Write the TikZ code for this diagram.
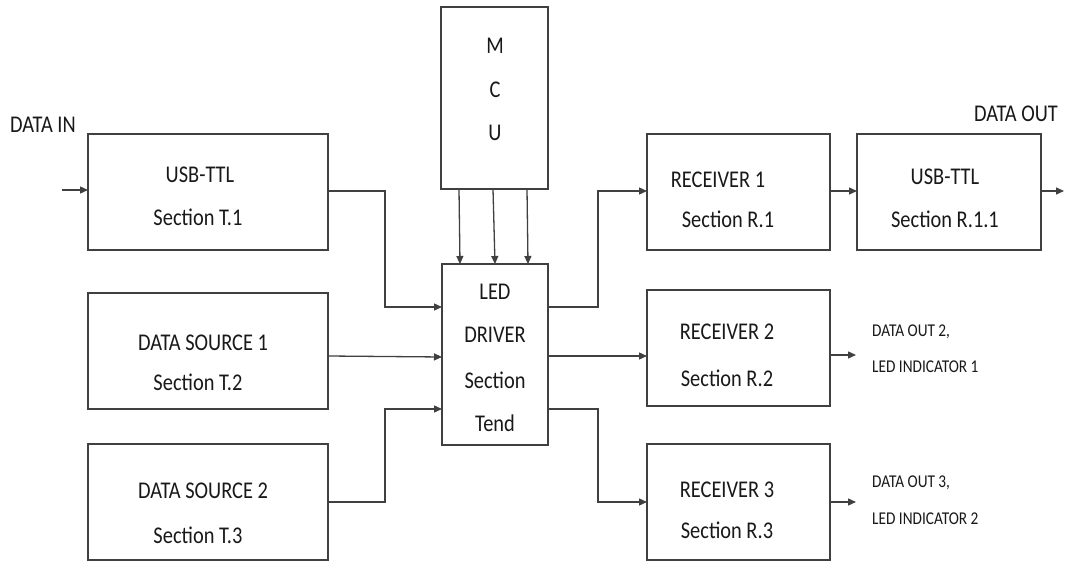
\documentclass[tikz,border=0pt]{standalone}
\usepackage{fontspec}
\usepackage{graphicx}
\setmainfont{Carlito}
\usetikzlibrary{arrows.meta}
\newcommand\vst[1]{\scalebox{1.02}[1.2]{#1}}
\begin{document}
\begin{tikzpicture}[x=1pt,y=-1pt,
  box/.style={draw=black!75,line width=1.3pt,rectangle,inner sep=0pt,outer sep=0pt},
  conn/.style={draw=black!75,line width=1.3pt},
  arr/.style={conn,-{Triangle[length=8pt,width=7pt]}},
  txt/.style={inner sep=0pt,text=black!90,font=\fontsize{20}{24}\selectfont},
  small/.style={inner sep=0pt,text=black!90,anchor=west,font=\fontsize{15}{18}\selectfont}]
\useasboundingbox[fill=white] (0,0) rectangle (1066,561);
% boxes
\node[box,minimum width=240pt,minimum height=116pt] (t1) at (208,192) {};
\node[box,minimum width=240pt,minimum height=116pt] (ds1) at (208,351) {};
\node[box,minimum width=240pt,minimum height=116pt] (ds2) at (208,502) {};
\node[box,minimum width=107pt,minimum height=182pt] (mcu) at (494.5,98) {};
\node[box,minimum width=106pt,minimum height=181pt] (led) at (495,354.5) {};
\node[box,minimum width=183pt,minimum height=116pt] (r1) at (738.5,192) {};
\node[box,minimum width=184pt,minimum height=116pt] (r11) at (949,192) {};
\node[box,minimum width=183pt,minimum height=116pt] (r2) at (738.5,348) {};
\node[box,minimum width=183pt,minimum height=116pt] (r3) at (738.5,502) {};
% texts
\node[txt] (din) at (43,125) {\vst{DATA IN}};
\node[txt] (dout) at (1016,114) {\vst{DATA OUT}};
\node[txt] (t1a) at (200,175) {\vst{USB-TTL}};
\node[txt] (t1b) at (198,217) {\vst{Section T.1}};
\node[txt] (ds1a) at (203,343) {\vst{DATA SOURCE 1}};
\node[txt] (ds1b) at (198,382) {\vst{Section T.2}};
\node[txt] (ds2a) at (203,491) {\vst{DATA SOURCE 2}};
\node[txt] (ds2b) at (198,535) {\vst{Section T.3}};
\node[txt] (m) at (495,46) {\vst{M}};
\node[txt] (c) at (495,90) {\vst{C}};
\node[txt] (u) at (495,133) {\vst{U}};
\node[txt] (led1) at (495,292) {\vst{LED}};
\node[txt] (led2) at (495,335) {\vst{DRIVER}};
\node[txt] (led3) at (495,380) {\vst{Section}};
\node[txt] (led4) at (495,423) {\vst{Tend}};
\node[txt] (r1a) at (718,180) {\vst{RECEIVER 1}};
\node[txt] (r1b) at (728,219) {\vst{Section R.1}};
\node[txt] (r11a) at (945,177) {\vst{USB-TTL}};
\node[txt] (r11b) at (945,219) {\vst{Section R.1.1}};
\node[txt] (r2a) at (727,332) {\vst{RECEIVER 2}};
\node[txt] (r2b) at (727,378) {\vst{Section R.2}};
\node[txt] (r3a) at (727,490) {\vst{RECEIVER 3}};
\node[txt] (r3b) at (727,530) {\vst{Section R.3}};
\node[small] (o2a) at (872,332) {\vst{DATA OUT 2,}};
\node[small] (o2b) at (872,367) {\vst{LED INDICATOR 1}};
\node[small] (o3a) at (872,483) {\vst{DATA OUT 3,}};
\node[small] (o3b) at (872,519) {\vst{LED INDICATOR 2}};
% free ends
\coordinate (in) at (62,190);
\coordinate (out1) at (1064,191);
\coordinate (out2) at (856,355);
\coordinate (out3) at (856,502);
% connectors
\draw[arr] (in) -- (in -| t1.west);
\draw[arr] (t1.east |- 0,191) -| (385,307) -- (led.west |- 0,307);
\draw[arr] (ds1.east |- 0,356) -- (led.west |- 0,357);
\draw[arr] (ds2.east |- 0,502) -| (385,409) -- (led.west |- 0,409);
\draw[arr] (mcu.south -| 459,0) -- (led.north -| 460,0);
\draw[arr] (mcu.south -| 493,0) -- (led.north -| 495,0);
\draw[arr] (mcu.south -| 527,0) -- (led.north -| 528,0);
\draw[arr] (led.east |- 0,307) -| (598,191) -- (r1.west |- 0,191);
\draw[arr] (led.east |- 0,356) -- (r2.west |- 0,356);
\draw[arr] (led.east |- 0,409) -| (598,502) -- (r3.west |- 0,502);
\draw[arr] (r1.east |- 0,191) -- (r11.west |- 0,191);
\draw[arr] (r11.east |- 0,191) -- (out1);
\draw[arr] (r2.east |- 0,355) -- (out2);
\draw[arr] (r3.east |- 0,502) -- (out3);
\end{tikzpicture}
\end{document}
